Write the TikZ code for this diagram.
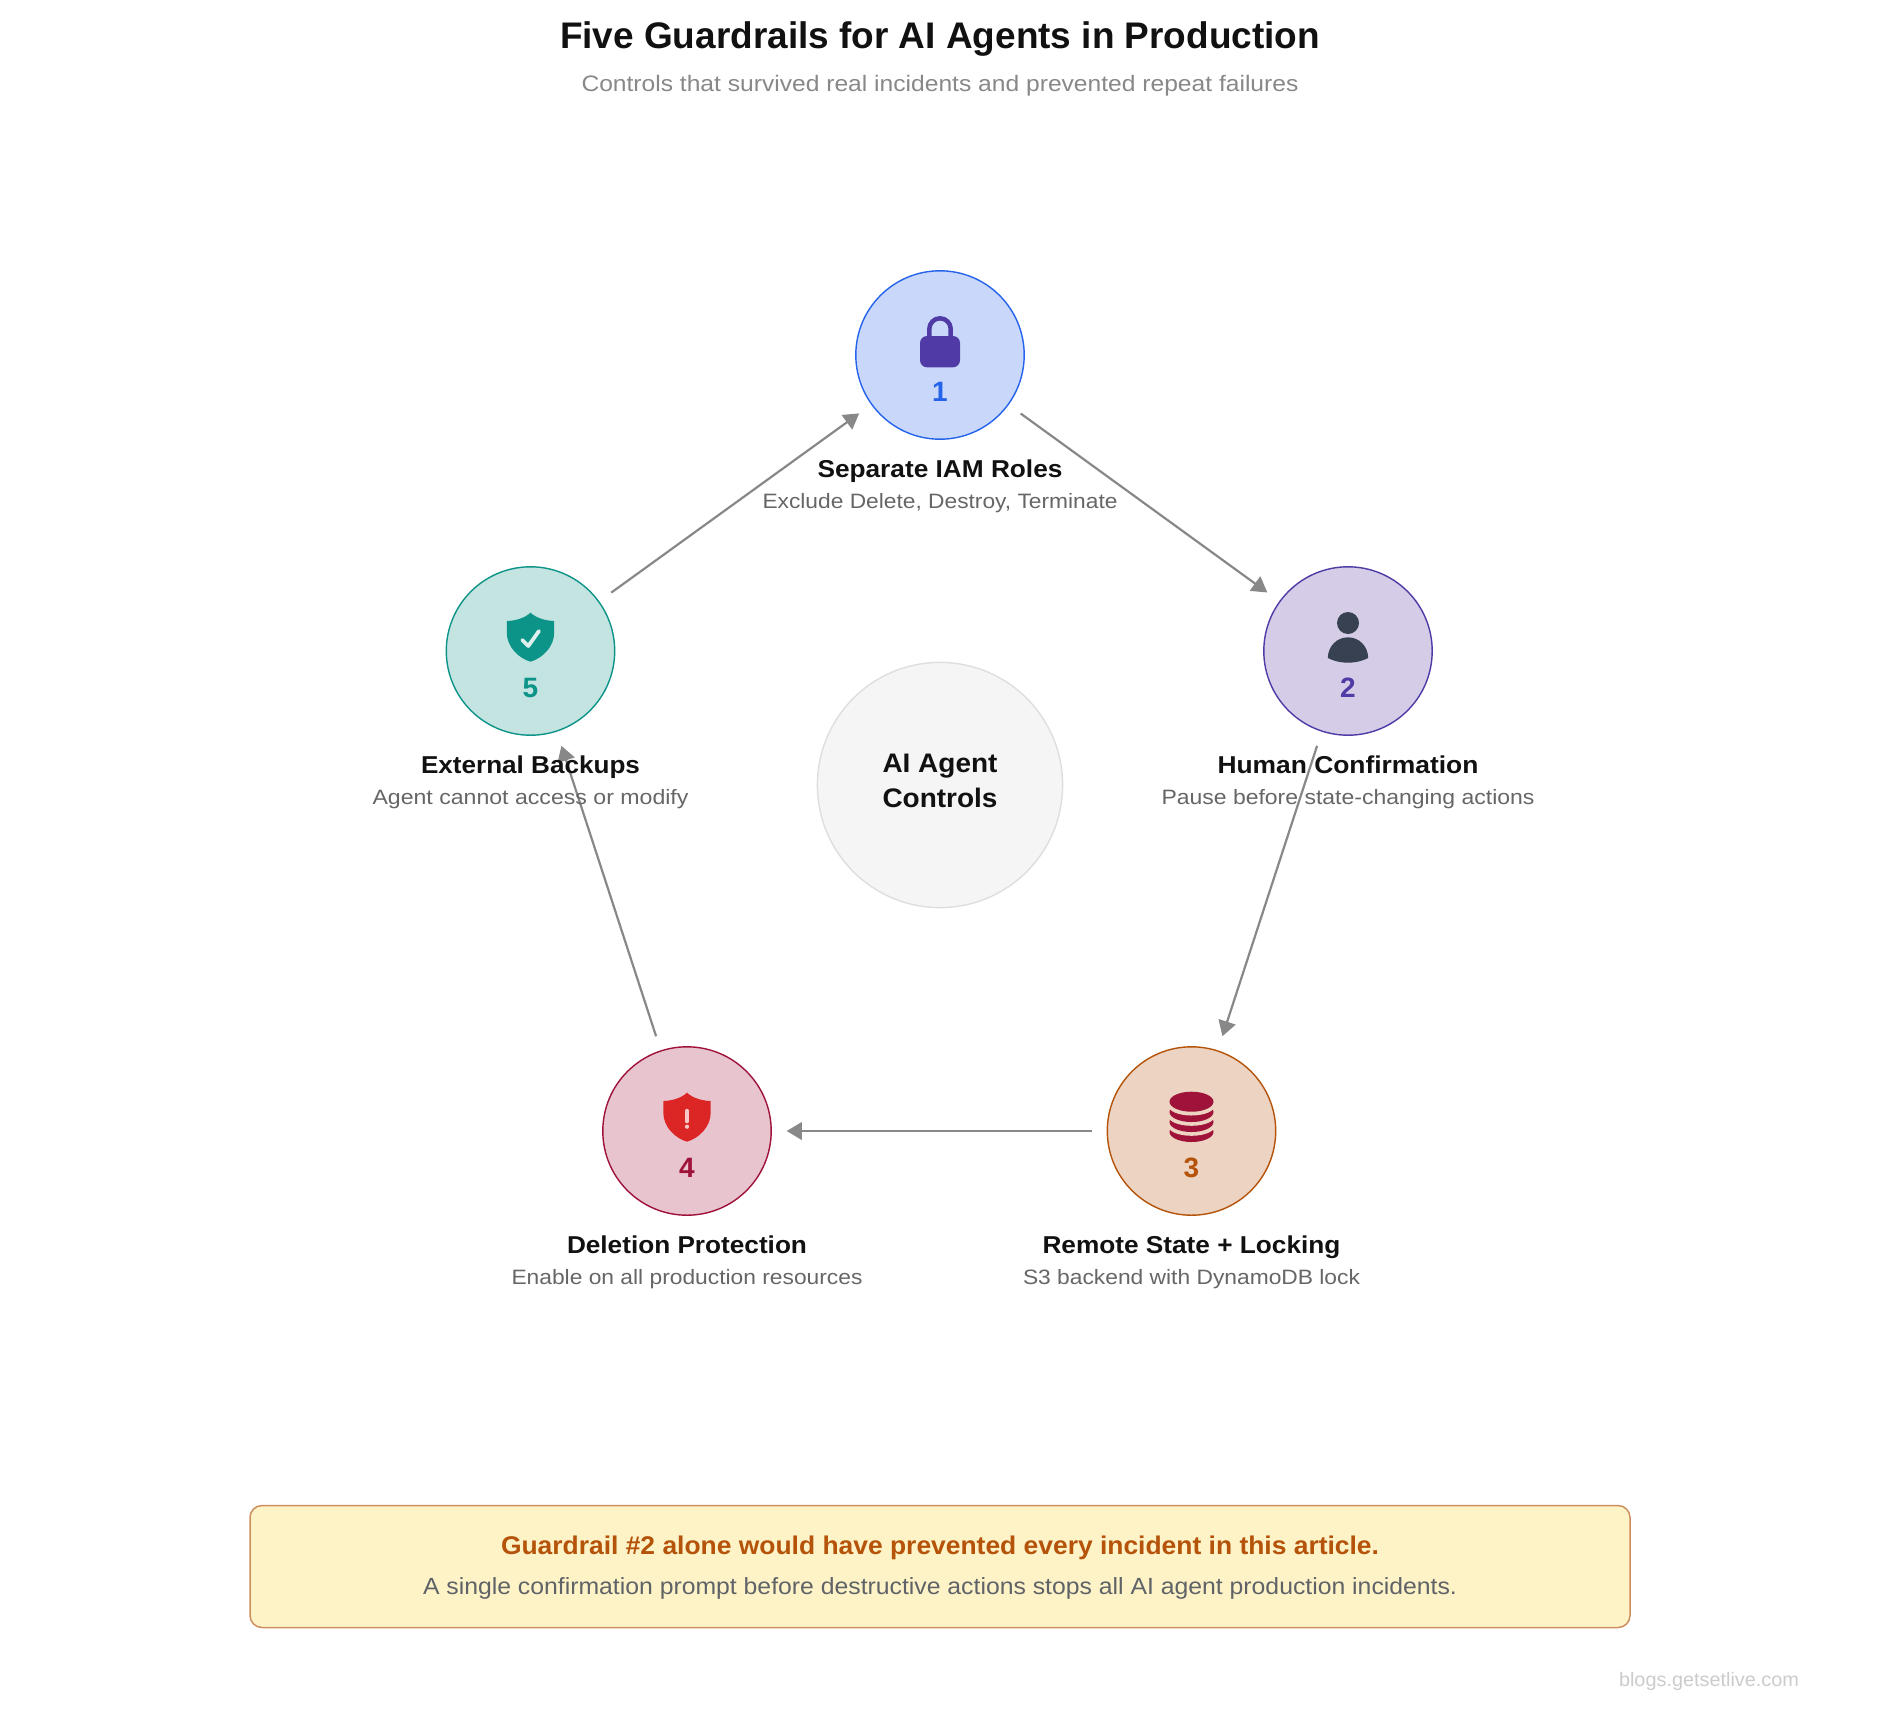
\documentclass[tikz,border=0pt]{standalone}
\usepackage{fontspec}
\setmainfont{Liberation Sans}
\usetikzlibrary{arrows.meta}
\definecolor{cA}{HTML}{2563EB}\definecolor{fA}{HTML}{C9D8FA}
\definecolor{cB}{HTML}{4F3AA6}\definecolor{fB}{HTML}{D5CDE8}
\definecolor{cC}{HTML}{B45309}\definecolor{fC}{HTML}{ECD3C2}
\definecolor{cD}{HTML}{9F1239}\definecolor{fD}{HTML}{E7C4CE}
\definecolor{cE}{HTML}{0D9488}\definecolor{fE}{HTML}{C3E4E1}
\definecolor{ink}{HTML}{111111}
\definecolor{subink}{HTML}{666666}
\definecolor{slate}{HTML}{374151}
\definecolor{alarm}{HTML}{DC2626}
\definecolor{flowc}{HTML}{888888}
\definecolor{alarmmark}{HTML}{F8C8C8}
\definecolor{checkmark}{HTML}{DDF0ED}
\definecolor{bannerfill}{HTML}{FEF3C7}
\definecolor{bannertext}{HTML}{5F6368}
\newsavebox\fitbox
\newcommand\fitw[2]{\sbox\fitbox{#2}\pgfmathsetmacro\fitr{#1*0.5/\the\wd\fitbox}\scalebox{\fitr}[1]{\usebox\fitbox}}
\newcommand\fsz[1]{\fontsize{#1pt}{#1pt}\selectfont}
\tikzset{
  guard/.style={circle,draw=#1,line width=0.7pt,minimum size=84.2pt,inner sep=0pt,outer sep=0pt},
  flow/.style={draw=flowc,line width=1.1pt,shorten >=7.75pt,shorten <=7.75pt,-{Triangle[length=7.6pt,width=8.8pt]},color=flowc},
  txt/.style={anchor=base,inner sep=0pt,outer sep=0pt},
  numlab/.style={txt,font=\fsz{14}\bfseries},
  headlab/.style={txt,text=ink,font=\fsz{12.2}\bfseries},
  sublab/.style={txt,text=subink,font=\fsz{10.4}},
}
\begin{document}
\begin{tikzpicture}[x=0.5pt,y=-0.5pt]
\useasboundingbox (0,0) rectangle (1880,1724);
\fill[white] (0,0) rectangle (1880,1724);
% centre
\node[circle,draw=black!13,fill=black!4,line width=0.7pt,minimum size=122.6pt,inner sep=0pt] (hub) at (940,785) {};
% circles
\node[guard=cA,fill=fA] (n1) at (940,355) {};
\node[guard=cB,fill=fB] (n2) at (1348,651) {};
\node[guard=cC,fill=fC] (n3) at (1191.5,1131) {};
\node[guard=cD,fill=fD] (n4) at (687,1131) {};
\node[guard=cE,fill=fE] (n5) at (530.5,651) {};
% connectors
\draw[flow] (n1) -- (n2);
\draw[flow] (n2) -- (n3);
\draw[flow] (n3) -- (n4);
\draw[flow] (n4) -- (n5);
\draw[flow] (n5) -- (n1);
% title
\node[txt,text=ink,font=\fsz{18.5}\bfseries] (title) at (940,48.6) {\fitw{760}{Five Guardrails for AI Agents in Production}};
\node[txt,text=flowc,font=\fsz{11.2}] (subtitle) at (940,91.7) {\fitw{717}{Controls that survived real incidents and prevented repeat failures}};
% hub text
\node[txt,text=ink,font=\fsz{13.4}\bfseries] (hubA) at (940,772.5) {\fitw{115}{AI Agent}};
\node[txt,text=ink,font=\fsz{13.4}\bfseries] (hubB) at (940,807.5) {\fitw{115}{Controls}};
% icons
\begin{scope}[shift={(n1)}]
\draw[cB,line width=2.25pt] (-10.7,-15) -- (-10.7,-26) arc[start angle=180,end angle=360,radius=10.7] -- (10.7,-15);
\fill[cB,rounded corners=3.5pt] (-20,-19) rectangle (20,12.3);
\end{scope}
\begin{scope}[shift={(n2)}]
\fill[slate] (0,-28) circle[radius=11];
\fill[slate] (-20.2,7) .. controls (-20,-5) and (-11,-13.7) .. (0,-13.7) .. controls (11,-13.7) and (20,-5) .. (20.2,7) .. controls (8,13.3) and (-8,13.3) .. (-20.2,7) -- cycle;
\end{scope}
\begin{scope}[shift={(n3)}]
\fill[cD] (0,1) ellipse[x radius=22,y radius=10];
\fill[fC] (0,-5.2) ellipse[x radius=23.5,y radius=10];
\fill[cD] (0,-9) ellipse[x radius=22,y radius=10];
\fill[fC] (0,-15.2) ellipse[x radius=23.5,y radius=10];
\fill[cD] (0,-19) ellipse[x radius=22,y radius=10];
\fill[fC] (0,-25.5) ellipse[x radius=23.5,y radius=10];
\fill[cD] (0,-29.3) ellipse[x radius=22,y radius=10];
\end{scope}
\begin{scope}[shift={(n4)}]
\fill[alarm] (0,-38.3) .. controls (-6,-32.8) and (-15,-30.3) .. (-23.5,-30) -- (-23.7,-18.3) .. controls (-23.7,-4.3) and (-12,7.2) .. (0,10.7) .. controls (12,7.2) and (23.7,-4.3) .. (23.7,-18.3) -- (23.5,-30) .. controls (15,-30.3) and (6,-32.8) .. (0,-38.3) -- cycle;
\draw[alarmmark,line width=1.7pt,line cap=round] (0,-20.5) -- (0,-9.5);
\fill[alarmmark] (0,-4.3) circle[radius=2.1];
\end{scope}
\begin{scope}[shift={(n5)}]
\fill[cE] (0,-38.3) .. controls (-6,-32.8) and (-15,-30.3) .. (-23.5,-30) -- (-23.7,-18.3) .. controls (-23.7,-4.3) and (-12,7.2) .. (0,10.7) .. controls (12,7.2) and (23.7,-4.3) .. (23.7,-18.3) -- (23.5,-30) .. controls (15,-30.3) and (6,-32.8) .. (0,-38.3) -- cycle;
\draw[checkmark,line width=1.9pt,line cap=round,line join=round] (-8.2,-11) -- (-2.2,-5) -- (8.5,-20);
\end{scope}
% numbers
\node[numlab,text=cA] (d1) at (940,401.7) {1};
\node[numlab,text=cB] (d2) at (1348,697.5) {2};
\node[numlab,text=cC] (d3) at (1191.5,1177.5) {3};
\node[numlab,text=cD] (d4) at (687,1177.5) {4};
\node[numlab,text=cE] (d5) at (530.5,697.5) {5};
% labels
\node[headlab] (h1) at (940,477.5) {\fitw{245}{Separate IAM Roles}};
\node[sublab] (s1) at (940,508.3) {\fitw{355}{Exclude Delete, Destroy, Terminate}};
\node[headlab] (h2) at (1348,773.5) {\fitw{261}{Human Confirmation}};
\node[sublab] (s2) at (1348,804.3) {\fitw{373}{Pause before state-changing actions}};
\node[headlab] (h3) at (1191.5,1253.5) {\fitw{298}{Remote State + Locking}};
\node[sublab] (s3) at (1191.5,1284.3) {\fitw{337}{S3 backend with DynamoDB lock}};
\node[headlab] (h4) at (687,1253.5) {\fitw{240}{Deletion Protection}};
\node[sublab] (s4) at (687,1284.3) {\fitw{351}{Enable on all production resources}};
\node[headlab] (h5) at (530.5,773.5) {\fitw{219}{External Backups}};
\node[sublab] (s5) at (530.5,804.3) {\fitw{316}{Agent cannot access or modify}};
% banner
\draw[fill=bannerfill,draw=cC!65!white,line width=0.75pt,rounded corners=6pt] (250,1505.5) rectangle (1630,1627.5);
\node[txt,text=cC,font=\fsz{12.8}\bfseries] (bannerA) at (940,1554) {\fitw{878}{Guardrail \#2 alone would have prevented every incident in this article.}};
\node[txt,text=bannertext,font=\fsz{11.7}] (bannerB) at (940,1594.3) {\fitw{1034}{A single confirmation prompt before destructive actions stops all AI agent production incidents.}};
% watermark
\node[txt,text=black!20,font=\fsz{9.8}] (mark) at (1709,1686) {\fitw{180}{blogs.getsetlive.com}};
\end{tikzpicture}
\end{document}
